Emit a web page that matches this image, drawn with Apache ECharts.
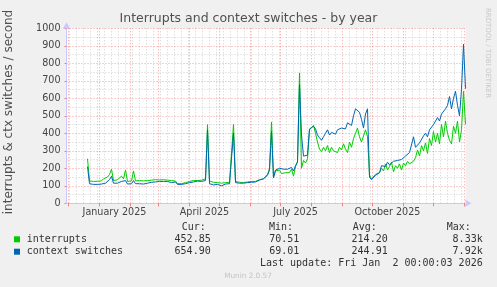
<!DOCTYPE html>
<html><head><meta charset="utf-8">
<script src="https://cdn.jsdelivr.net/npm/echarts@6/dist/echarts.min.js"></script>
<style>html,body{margin:0;padding:0;background:#f0f0f0}#c{width:497px;height:287px}</style>
</head><body><div id="c"></div>
<script>
// ---- data ----
const dataStartDate = '2024-12-20';
const stepDays = 2;
const interrupts = [
255,128,130,125,132,126,135,128,140,135,150,165,195,130,128,135,130,155,140,190,
125,130,128,185,128,122,130,125,128,122,130,125,132,128,135,130,133,128,135,130,
132,128,130,125,127,112,110,112,115,118,122,125,128,130,133,130,135,132,136,140,
450,128,125,120,128,118,125,115,122,118,125,120,128,450,125,128,120,125,118,115,
122,118,125,120,125,130,135,138,140,150,165,200,465,150,185,175,190,170,180,175,
185,175,195,155,210,240,745,200,245,230,255,420,430,445,400,350,310,295,320,300,
330,290,320,300,310,290,320,305,340,310,290,350,320,370,400,430,380,350,360,420,
380,160,140,150,165,160,175,200,185,225,190,210,235,180,215,200,225,190,230,215,
240,225,215,240,260,305,270,330,300,345,285,370,330,410,350,400,340,450,380,470,
400,360,340,440,400,470,350,420,640,450
];
const contextSwitches = [
210,112,110,108,115,108,118,110,118,115,125,135,155,115,108,115,110,125,118,130,
110,108,112,130,112,105,112,108,110,112,115,118,120,115,122,118,125,120,125,122,
125,120,118,120,122,108,106,108,110,112,115,118,120,122,125,127,128,125,128,130,
420,112,110,105,100,108,110,100,108,110,115,112,118,400,118,120,115,118,115,112,
118,115,120,115,122,128,133,135,140,148,160,190,410,145,190,195,200,190,195,205,
195,200,205,185,215,235,680,390,270,280,275,425,430,440,425,390,375,360,380,400,
420,390,405,410,395,420,410,430,440,425,460,470,445,500,540,550,520,480,430,510,
540,150,135,145,160,170,175,215,225,210,235,220,225,240,230,245,240,250,260,270,
275,290,300,380,320,330,345,355,385,400,380,420,415,450,440,490,470,510,500,540,
560,610,540,600,640,560,500,650,910,655
];
const yTicks = {min: 0, max: 1000, step: 100};
const monthNames = ['January','February','March','April','May','June','July','August','September','October','November','December'];
const labelMonths = ['01','04','07','10'];
const seriesNames = ['interrupts', 'context switches'];
const seriesColors = ['#00cc00', '#0066b3'];
const statHeaders = ['Cur:', 'Min:', 'Avg:', 'Max:'];
const statsInterrupts = ['452.85', '70.51', '214.20', '8.33k'];
const statsContext = ['654.90', '69.01', '244.91', '7.92k'];
const titleText = 'Interrupts and context switches - by year';
const yName = 'interrupts & ctx switches / second';
const lastUpdate = 'Last update: Fri Jan  2 00:00:03 2026';
const muninVersion = 'Munin 2.0.57';
const rrdText = 'RRDTOOL / TOBI OETIKER';

// ---- build ----
const DAY = 864e5;
const fmt = d => new Date(d).toISOString().slice(0, 10);
const axisStart = Date.UTC(2024, 10, 29);
const axisDays = 400;
const categories = [];
for (let k = 0; k < axisDays; k++) categories.push(fmt(axisStart + k * DAY));
const ds = Date.parse(dataStartDate + 'T00:00:00Z');
const toPairs = arr => arr.map((v, i) => [fmt(ds + i * stepDays * DAY), v]);
const isMonthStart = v => v.slice(8) === '01';
const isMonday = v => new Date(v + 'T00:00:00Z').getUTCDay() === 1;
const isLabelDay = v => v.slice(8) === '16' && labelMonths.includes(v.slice(5, 7));

const chart = echarts.init(document.getElementById('c'), null, {renderer: 'canvas'});
const sans = 'DejaVu Sans';
const legendColor = '#333';
const colX = [[181.7, 210.7], [269, 299.3], [352.7, 387.7], [446.7, 482.7]];
const graphics = [
  {type: 'text', left: 'center', top: 12, style: {text: titleText, font: '12.5px "DejaVu Sans"', fill: '#505050'}},
  {type: 'text', x: 9, y: 112, rotation: Math.PI / 2, style: {text: yName, font: '12px "DejaVu Sans"', fill: '#505050', align: 'center', verticalAlign: 'middle'}},
  {type: 'text', x: 488, y: 53, rotation: -Math.PI / 2, style: {text: rrdText, font: '7px "DejaVu Sans"', fill: '#c8c8c8', align: 'center', verticalAlign: 'middle'}},
  {type: 'text', x: 248, y: 276, style: {text: muninVersion, font: '7.3px "DejaVu Sans"', fill: '#c4c4c4', align: 'center', verticalAlign: 'middle'}},
  {type: 'text', x: 482.7, y: 263.7, style: {text: lastUpdate, font: '10px "DejaVu Sans Mono"', fill: legendColor, align: 'right', verticalAlign: 'middle'}}
];
statHeaders.forEach((h, j) => graphics.push({type: 'text', x: colX[j][0], y: 227.7, style: {text: h, font: '10px "DejaVu Sans Mono"', fill: legendColor, align: 'left', verticalAlign: 'middle'}}));
[statsInterrupts, statsContext].forEach((row, r) => {
  const y = 239.3 + r * 12.4;
  graphics.push({type: 'rect', shape: {x: 14, y: y - 3, width: 6, height: 6}, style: {fill: seriesColors[r]}});
  graphics.push({type: 'text', x: 26.7, y: y, style: {text: seriesNames[r], font: '10px "DejaVu Sans Mono"', fill: legendColor, align: 'left', verticalAlign: 'middle'}});
  row.forEach((s, j) => graphics.push({type: 'text', x: colX[j][1], y: y, style: {text: s, font: '10px "DejaVu Sans Mono"', fill: legendColor, align: 'right', verticalAlign: 'middle'}}));
});

const option = {
  backgroundColor: '#f0f0f0',
  animation: false,
  grid: {left: 66.5, top: 28.3, width: 399, height: 175, backgroundColor: '#ffffff', show: true, borderWidth: 0},
  xAxis: [
    {
      type: 'category', data: categories, boundaryGap: false,
      axisLine: {show: true, lineStyle: {color: '#c8c8ff', width: 1}, symbol: ['none', 'arrow'], symbolSize: [6, 7], symbolOffset: [0, 6]},
      axisTick: {show: true, interval: (i, v) => isMonthStart(v), length: 3, lineStyle: {color: '#f08080'}},
      axisLabel: {interval: (i, v) => isLabelDay(v), formatter: v => monthNames[+v.slice(5, 7) - 1] + ' ' + v.slice(0, 4), fontFamily: sans, fontSize: 9.6, color: '#444', margin: 4, hideOverlap: false},
      splitLine: {show: true, interval: (i, v) => isMonthStart(v), lineStyle: {color: 'rgba(240,80,80,0.55)', type: [1, 2], width: 1}},
      z: 3
    },
    {
      type: 'category', data: categories, boundaryGap: false, position: 'bottom',
      axisLine: {show: false}, axisTick: {show: false}, axisLabel: {show: false},
      splitLine: {show: true, interval: (i, v) => isMonday(v) && !isMonthStart(v), lineStyle: {color: 'rgba(150,150,150,0.45)', type: [1, 2], width: 1}},
      z: 2
    }
  ],
  yAxis: {
    type: 'value', min: yTicks.min, max: yTicks.max, interval: yTicks.step,
    axisLine: {show: true, lineStyle: {color: '#c8c8ff'}, symbol: ['none', 'arrow'], symbolSize: [6, 7], symbolOffset: [0, 6]},
    axisTick: {show: true, length: 2, lineStyle: {color: '#f08080'}},
    minorTick: {show: false, splitNumber: 2},
    axisLabel: {fontFamily: sans, fontSize: 9.6, color: '#444', margin: 6, formatter: v => String(v)},
    splitLine: {show: true, lineStyle: {color: 'rgba(240,80,80,0.55)', type: [1, 2], width: 1}},
    minorSplitLine: {show: true, lineStyle: {color: 'rgba(150,150,150,0.45)', type: [1, 2], width: 1}}
  },
  series: [
    {name: seriesNames[0], type: 'line', data: toPairs(interrupts), showSymbol: false, symbol: 'none', lineStyle: {color: seriesColors[0], width: 1}, z: 4},
    {name: seriesNames[1], type: 'line', data: toPairs(contextSwitches), showSymbol: false, symbol: 'none', lineStyle: {color: seriesColors[1], width: 1}, z: 5}
  ],
  graphic: graphics
};
chart.setOption(option);
</script>
</body></html>
